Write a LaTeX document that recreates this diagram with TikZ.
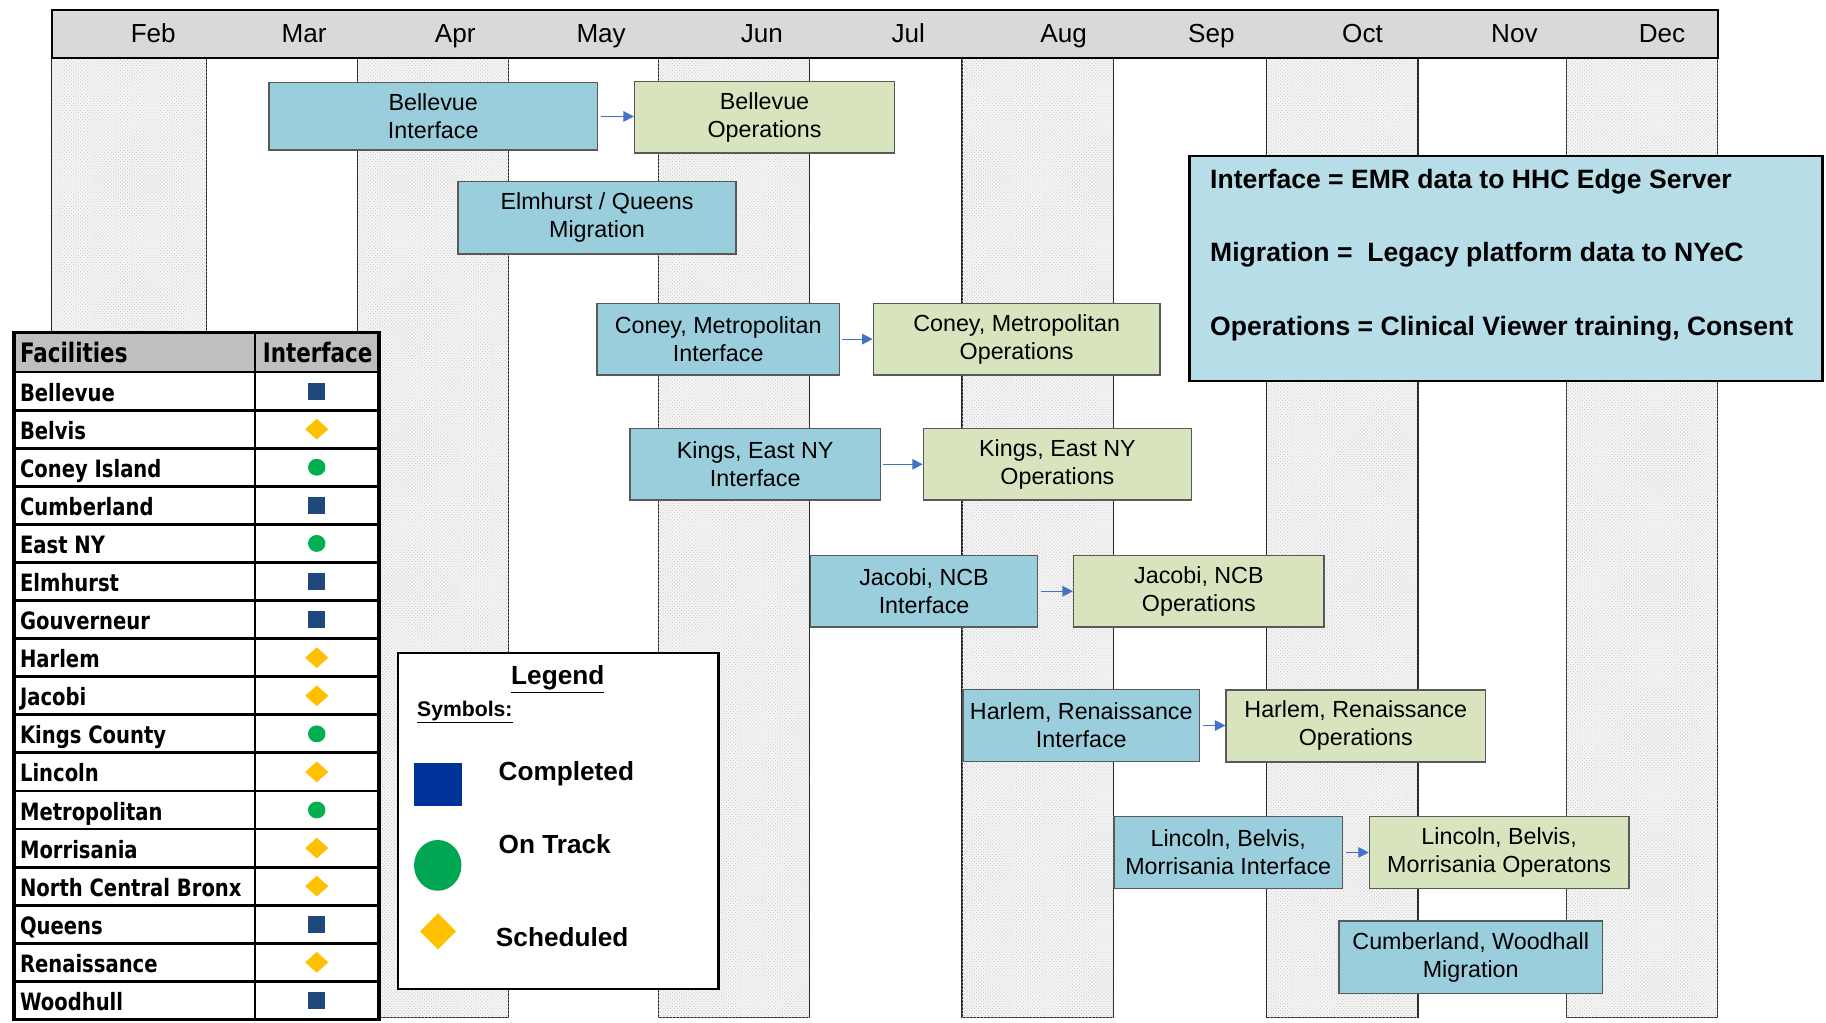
\documentclass[tikz,border=0pt]{standalone}
\usepackage{graphicx}
\usepackage{fontspec}
\setmainfont{Liberation Sans}
\newfontfamily\tabfont{DejaVu Sans}
\usetikzlibrary{arrows.meta,patterns,shapes.geometric}
\definecolor{ifc}{HTML}{9ACEDD}
\definecolor{opc}{HTML}{D7E4BD}
\definecolor{defc}{HTML}{B7DEE8}
\definecolor{hdrc}{HTML}{D9D9D9}
\definecolor{thdr}{HTML}{BFBFBF}
\definecolor{sqc}{HTML}{1F497D}
\definecolor{dic}{HTML}{FFC000}
\definecolor{cic}{HTML}{00B050}
\definecolor{lsqc}{HTML}{003399}
\definecolor{lcic}{HTML}{00A651}
\definecolor{arrc}{HTML}{4472C4}
\begin{document}
\begin{tikzpicture}[x=1pt,y=-1pt,
  hatchcol/.style={draw=black!85, line width=1pt, fill=black!4,
     postaction={pattern=crosshatch dots, pattern color=black!22}},
  ibox/.style={draw=black!65, line width=1.3pt, fill=ifc, align=center,
     inner sep=0pt, font=\fontsize{20}{24}\selectfont},
  obox/.style={ibox, fill=opc},
  conn/.style={draw=arrc, line width=1pt, -{Triangle[length=9pt,width=9pt]}, shorten <=2pt},
  month/.style={anchor=base, inner sep=0pt, font=\fontsize{22.4}{26}\selectfont},
  deftxt/.style={anchor=base west, inner sep=0pt, font=\bfseries\fontsize{22.8}{27}\selectfont},
  tabtxt/.style={anchor=base west, inner sep=0pt, font=\tabfont\bfseries\fontsize{20.5}{24}\selectfont},
  tabhdr/.style={anchor=base west, inner sep=0pt, font=\tabfont\bfseries\fontsize{23}{27}\selectfont},
  symsq/.style={rectangle, fill=sqc, minimum width=14.5pt, minimum height=14.5pt, inner sep=0pt},
  symdi/.style={diamond, fill=dic, minimum width=20pt, minimum height=18pt, inner sep=0pt},
  symci/.style={ellipse, fill=cic, minimum width=15pt, minimum height=14.5pt, inner sep=0pt},
  legtxt/.style={anchor=base west, inner sep=0pt, font=\bfseries\fontsize{22.5}{27}\selectfont}
]
\useasboundingbox (0,0) rectangle (1568,878);
\fill[white] (0,0) rectangle (1568,878);

% hatched month columns
\foreach \l/\r in {44.4/177.5, 307.1/436.8, 565.4/695.1, 826.1/956.5, 1087.8/1217.7, 1345/1475}
  \draw[hatchcol] (\l,50) rectangle (\r,874);

% header
\draw[line width=2pt, fill=hdrc] (44.4,8.6) rectangle (1475,50);
\foreach \m/\x [count=\i] in {Feb/131.6, Mar/261.2, Apr/390.9, May/516.2, Jun/654.2, Jul/780, Aug/913.3, Sep/1040.2, Oct/1170, Nov/1300.4, Dec/1427.2}
  \node[month] (m\i) at (\x,36.6) {\m};

% task boxes
\node[ibox, minimum width=282pt, minimum height=58pt] (bi) at (372,100) {Bellevue\\Interface};
\node[obox, minimum width=223pt, minimum height=61.5pt] (bo) at (656.5,100.7) {Bellevue\\Operations};
\node[ibox, minimum width=238.5pt, minimum height=62pt] (eq) at (512.7,187) {Elmhurst / Queens\\Migration};
\node[ibox, minimum width=208pt, minimum height=61.5pt] (ci) at (616.7,291.2) {Coney, Metropolitan\\Interface};
\node[obox, minimum width=246pt, minimum height=61.5pt] (co) at (873,291.2) {Coney, Metropolitan\\Operations};
\node[ibox, minimum width=215pt, minimum height=61.5pt] (ki) at (648.5,398.7) {Kings, East NY\\Interface};
\node[obox, minimum width=230pt, minimum height=61.5pt] (ko) at (908,398.7) {Kings, East NY\\Operations};
\node[ibox, minimum width=195pt, minimum height=61.5pt] (ji) at (793.5,507.7) {Jacobi, NCB\\Interface};
\node[obox, minimum width=215pt, minimum height=61.5pt] (jo) at (1029.5,507.7) {Jacobi, NCB\\Operations};
\node[ibox, minimum width=203pt, minimum height=61.5pt] (hi) at (928.5,623) {Harlem, Renaissance\\Interface};
\node[obox, minimum width=222.5pt, minimum height=62pt] (ho) at (1164.2,623.3) {Harlem, Renaissance\\Operations};
\node[ibox, minimum width=196.5pt, minimum height=62pt] (li) at (1054.7,732) {Lincoln, Belvis,\\Morrisania Interface};
\node[obox, minimum width=222.6pt, minimum height=62pt] (lo) at (1287.3,732) {Lincoln, Belvis,\\Morrisania Operatons};
\node[ibox, minimum width=226.2pt, minimum height=62.3pt] (cw) at (1262.9,822.1) {Cumberland, Woodhall\\Migration};

% connectors
\draw[conn] (bi.east) -- (bi.east -| bo.west);
\draw[conn] (ci.east) -- (ci.east -| co.west);
\draw[conn] (ki.east) -- (ki.east -| ko.west);
\draw[conn] (ji.east) -- (ji.east -| jo.west);
\draw[conn] (hi.east) -- (hi.east -| ho.west);
\draw[conn] (li.east) -- (li.east -| lo.west);

% definitions box
\node[draw, line width=2pt, fill=defc, minimum width=543.5pt, minimum height=193pt, inner sep=0pt] (def) at (1293.25,230.5) {};
\node[deftxt] (d1) at (1039,161.7) {Interface = EMR data to HHC Edge Server};
\node[deftxt] (d2) at (1039,224.7) {Migration =\ \ Legacy platform data to NYeC};
\node[deftxt] (d3) at (1039,287.7) {Operations = Clinical Viewer training, Consent};

% facilities table
\fill[white] (12,285.5) rectangle (325.5,875.5);
\fill[thdr] (12,285.5) rectangle (325.5,319.5);
\node[tabhdr] (th1) at (17,311.4) {\scalebox{0.8}[1]{Facilities}};
\node[tabhdr] (th2) at (225.5,311.4) {\scalebox{0.8}[1]{Interface}};
\foreach \nm/\sy [count=\i] in {Bellevue/sq, Belvis/di, Coney Island/ci, Cumberland/sq, East NY/ci, Elmhurst/sq, Gouverneur/sq, Harlem/di, Jacobi/di, Kings County/ci, Lincoln/di, Metropolitan/ci, Morrisania/di, North Central Bronx/di, Queens/sq, Renaissance/di, Woodhull/sq} {
  \pgfmathsetmacro\yc{319.5+(\i-0.5)*32.7}
  \node[tabtxt] (f\i) at (17,{\yc+8.6}) {\scalebox{0.82}[1]{\nm}};
  \node[sym\sy] (s\i) at (272,\yc) {};
}
\foreach \i in {0,...,16}
  \draw[line width=2.4pt] (12,{319.5+\i*32.7}) -- (325.5,{319.5+\i*32.7});
\draw[line width=2.4pt] (219,285.5) -- (219,875.5);
\draw[line width=3pt] (12,285.5) rectangle (325.5,875.5);

% legend
\draw[line width=2pt, fill=white] (341.5,560.5) rectangle (617,849);
\node[anchor=base, inner sep=0pt, font=\bfseries\fontsize{22.5}{27}\selectfont] (lg) at (479,588) {\underline{Legend}};
\node[anchor=base west, inner sep=0pt, font=\bfseries\fontsize{18.2}{22}\selectfont] (lsy) at (358,615) {\underline{Symbols:}};
\node[rectangle, fill=lsqc, minimum width=41pt, minimum height=36.5pt, inner sep=0pt] (lsq) at (376.1,673.7) {};
\node[legtxt] (lcom) at (428,670.4) {Completed};
\node[ellipse, fill=lcic, minimum width=40.7pt, minimum height=43.6pt, inner sep=0pt] (lci) at (375.9,743.1) {};
\node[legtxt] (lon) at (428,732.8) {On Track};
\node[diamond, fill=dic, minimum width=31pt, minimum height=31pt, inner sep=0pt] (ldi) at (376.1,799.8) {};
\node[legtxt] (lsch) at (425.7,812.4) {Scheduled};
\end{tikzpicture}
\end{document}
